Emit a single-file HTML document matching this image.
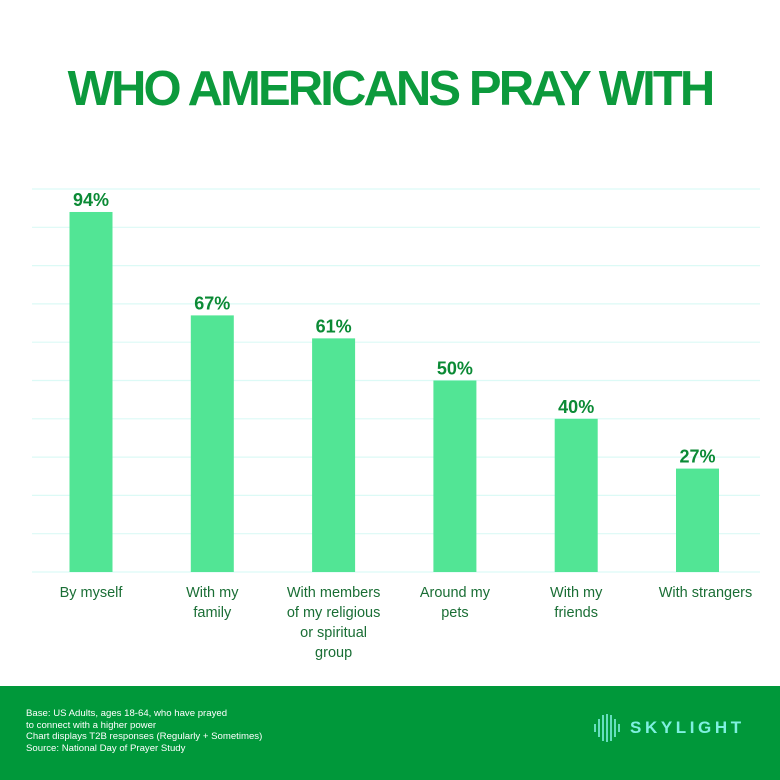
<!DOCTYPE html>
<html><head><meta charset="utf-8"><style>
body{margin:0;width:780px;height:780px;background:#fff;font-family:"Liberation Sans",sans-serif;overflow:hidden;position:relative}
.title{position:absolute;top:61px;left:0;width:780px;text-align:center;font-size:49px;font-weight:900;color:#0c9a3c;letter-spacing:-2.9px}
.footer{position:absolute;left:0;top:686px;width:780px;height:94px;background:#00983a}
.note{position:absolute;left:26px;top:22px;color:#fff;font-size:9.6px;line-height:11.7px}
.logo{position:absolute;left:592px;top:27px;color:#7ff0e0;font-size:17px;letter-spacing:3.6px;font-weight:bold;display:flex;align-items:center}
</style></head><body>
<div class="title">WHO AMERICANS PRAY WITH</div>
<svg id="chart" width="780" height="680" style="position:absolute;left:0;top:0"></svg>
<div class="footer">
<div class="note">Base: US Adults, ages 18-64, who have prayed<br>to connect with a higher power<br>Chart displays T2B responses (Regularly + Sometimes)<br>Source: National Day of Prayer Study</div>
<div class="logo"><svg width="30" height="30" style="margin-right:8px"><g stroke="#7ff0e0" stroke-width="1.6"><line x1="3" y1="11" x2="3" y2="19"/><line x1="7" y1="6" x2="7" y2="24"/><line x1="11" y1="2" x2="11" y2="28"/><line x1="15" y1="1" x2="15" y2="29"/><line x1="19" y1="2" x2="19" y2="28"/><line x1="23" y1="6" x2="23" y2="24"/><line x1="27" y1="11" x2="27" y2="19"/></g></svg>SKYLIGHT</div>
</div>
<script>
const categories=[["By myself"],["With my","family"],["With members","of my religious","or spiritual","group"],["Around my","pets"],["With my","friends"],["With strangers"]];
const values=[94,67,61,50,40,27];
const ticks=[0,10,20,30,40,50,60,70,80,90,100];
const svg=document.getElementById('chart');const NS='http://www.w3.org/2000/svg';
const y0=572,y1=189;const y=v=>y0-(y0-y1)*v/100;
const xc=i=>91+i*121.3;
function mk(t,a){const e=document.createElementNS(NS,t);for(const k in a)e.setAttribute(k,a[k]);svg.appendChild(e);return e;}
ticks.forEach(t=>{const l=mk('line',{x1:32,x2:760,y1:y(t),y2:y(t),stroke:'#dcfaf6','stroke-width':1.2});

});
values.forEach((v,i)=>{
const r=mk('rect',{x:xc(i)-21.5,y:y(v),width:43,height:y0-y(v),fill:'#52e595'});


const t=mk('text',{x:xc(i),y:y(v)-6,'text-anchor':'middle','font-size':18,'font-weight':'bold',fill:'#0b8a35','font-family':'Liberation Sans'});t.textContent=v+'%';


categories[i].forEach((s,j)=>{const c=mk('text',{x:xc(i)+(i==5?8:0),y:597+j*20,'text-anchor':'middle','font-size':14.5,fill:'#1a6e35','font-family':'Liberation Sans'});c.textContent=s;

});
});
</script>
</body></html>
